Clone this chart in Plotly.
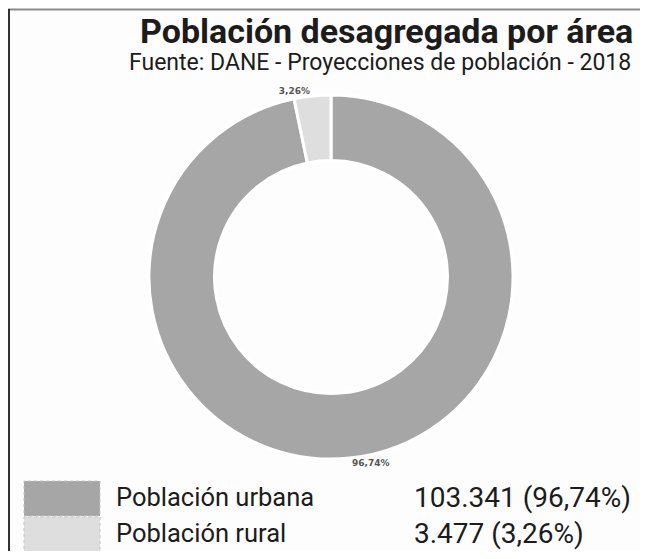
import plotly.graph_objects as go

# ---- data ----
categories = ["Población urbana", "Población rural"]
values = [103341, 3477]
title_text = "Población desagregada por área"
subtitle_text = "Fuente: DANE - Proyecciones de población - 2018"

# ---- style ----
# The page body adds an 8px margin, so the figure is drawn from screen (8, 8);
# keep the figure small enough that the page does not need scrollbars.
OFF = 8
W, H = 632, 543
colors = ["#a6a6a6", "#dedede"]


def px(x):
    """screen x -> paper x"""
    return (x - OFF) / W


def py(y):
    """screen y -> paper y"""
    return 1 - (y - OFF) / H


cx, cy, r = 331, 277, 182

fig = go.Figure()
fig.add_trace(go.Pie(
    labels=categories,
    values=values,
    hole=0.64,
    sort=False,
    direction="clockwise",
    rotation=0,
    marker=dict(colors=colors, line=dict(color="white", width=3)),
    textposition="outside",
    texttemplate="<b>%{percent:.2%}</b>",
    textfont=dict(family="DejaVu Sans", size=9, color="#555555"),
    showlegend=False,
    hoverinfo="label+value+percent",
    domain=dict(x=[px(cx - r), px(cx + r)], y=[py(cy + r), py(cy - r)]),
))

shapes = [
    dict(type="line", xref="paper", yref="paper", x0=0, x1=1, y0=py(9.5), y1=py(9.5),
         line=dict(color="#8c8c8c", width=2)),
    dict(type="line", xref="paper", yref="paper", x0=px(9), x1=px(9), y0=py(9), y1=0,
         line=dict(color="#333333", width=2)),
]
annotations = [
    dict(text="<b>" + title_text + "</b>", x=px(386), y=py(31), xref="paper", yref="paper",
         xanchor="center", yanchor="middle", showarrow=False,
         font=dict(family="Roboto", size=34, color="#1c1c1c")),
    dict(text=subtitle_text, x=px(380), y=py(63), xref="paper", yref="paper",
         xanchor="center", yanchor="middle", showarrow=False,
         font=dict(family="Roboto", size=23, color="#1c1c1c")),
]

total = sum(values)
row_top = [481, 517]
row_h = 36
text_y = [497, 533]
for i, (cat, val) in enumerate(zip(categories, values)):
    y0 = row_top[i]
    shapes.append(dict(type="rect", xref="paper", yref="paper",
                       x0=px(24), x1=px(100), y0=py(y0 + row_h - 1), y1=py(y0),
                       fillcolor=colors[i], line=dict(color="#c4c4c4", width=1, dash="dot"),
                       layer="below"))
    yc = py(text_y[i])
    annotations.append(dict(text=cat, x=px(114), y=yc, xref="paper", yref="paper",
                            xanchor="left", yanchor="middle", showarrow=False,
                            font=dict(family="Roboto", size=25.5, color="#1c1c1c")))
    pct = f"{val / total * 100:.2f}".replace(".", ",")
    num = f"{val:,}".replace(",", ".")
    annotations.append(dict(text=f"{num} ({pct}%)", x=px(412), y=yc, xref="paper", yref="paper",
                            xanchor="left", yanchor="middle", showarrow=False,
                            font=dict(family="Roboto", size=28, color="#1c1c1c")))

fig.update_layout(
    width=W, height=H,
    margin=dict(l=0, r=0, t=0, b=0),
    paper_bgcolor="#fdfdfd",
    plot_bgcolor="#fdfdfd",
    separators=",.",
    shapes=shapes,
    annotations=annotations,
)

fig.write_html("out.html")
